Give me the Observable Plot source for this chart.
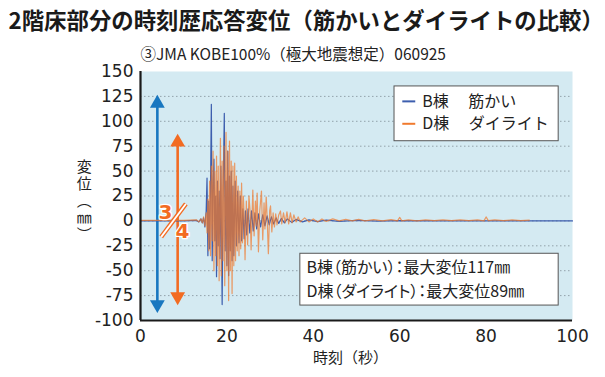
<!DOCTYPE html>
<html>
<head>
<meta charset="utf-8">
<script src="https://cdn.jsdelivr.net/npm/d3@7"></script>
<script src="https://cdn.jsdelivr.net/npm/@observablehq/plot@0.6"></script>
<style>
  html, body { margin: 0; padding: 0; background: #fff; }
  #chart { width: 605px; height: 377px; }
</style>
</head>
<body>
<div id="chart"></div>
<script>
// ---- Text ----
const titleText = "2階床部分の時刻歴応答変位（筋かいとダイライトの比較）";
const subtitleText = "③JMA KOBE100%（極大地震想定）060925";
const xLabel = "時刻（秒）";
const yLabelChars = ["変", "位", "︵", "㎜", "︶"];

// ---- Axis ticks ----
const xTicks = [0, 20, 40, 60, 80, 100];
const yTicks = [-100, -75, -50, -25, 0, 25, 50, 75, 100, 125, 150];
const gridTicks = [-75, -50, -25, 0, 25, 50, 75, 100, 125];

// ---- Series: B棟 筋かい  [time s, displacement mm] ----
const bPeaks = [[0,0],[10,0],[13,0.5],[13.5,-1],[14,2],[14.3,-2],[14.6,3],[14.9,-6],[15.2,10],[15.4,43],[15.6,-35],[15.8,20],[16.0,-28],[16.2,30],[16.4,117],[16.6,-40],[16.8,35],[17.0,62],[17.2,-20],[17.4,25],[17.6,-56],[17.8,40],[18.0,-25],[18.2,30],[18.4,-38],[18.6,55],[18.9,-84],[19.1,20],[19.4,108],[19.6,-30],[19.8,40],[20.0,-45],[20.2,70],[20.4,-55],[20.6,45],[20.8,-30],[21.0,50],[21.2,-40],[21.4,35],[21.6,-35],[21.9,40],[22.2,-25],[22.5,30],[22.8,-22],[23.1,25],[23.4,-20],[23.7,12],[24.0,-18],[24.3,10],[24.6,-14],[24.9,12],[25.3,-12],[25.7,10],[26.1,-10],[26.5,8],[26.9,-8],[27.3,7],[27.8,-6],[28.3,6],[28.8,-5],[29.3,5],[29.8,-4],[30.3,4],[30.8,-3],[31.4,3],[32,-2.5],[32.6,2.5],[33.3,-2],[34,2],[35,-1.5],[36,1.5],[37.5,-1],[39,1],[41,-0.8],[43,0.8],[46,-0.5],[50,0.5],[55,-0.3],[60,0.3],[70,0],[100,0]];

// ---- Series: D棟 ダイライト ----
const dPeaks = [[0,0.5],[10,0.5],[13,1],[13.5,-1],[14,2],[14.3,-2],[14.6,4],[14.9,-5],[15.2,8],[15.4,-12],[15.6,22],[15.8,-30],[16.0,40],[16.2,-35],[16.4,55],[16.6,-20],[16.8,70],[17.0,-50],[17.2,50],[17.4,-35],[17.6,65],[17.8,-45],[18.0,55],[18.2,-60],[18.5,83],[18.7,-55],[18.9,60],[19.1,-40],[19.3,75],[19.5,-65],[19.8,89],[20.0,-50],[20.2,70],[20.4,-80],[20.6,80],[20.8,-50],[21.0,60],[21.2,-73],[21.4,55],[21.6,-45],[21.8,58],[22.0,-40],[22.2,45],[22.4,-30],[22.6,35],[22.8,-35],[23.0,30],[23.2,-28],[23.4,38],[23.6,-22],[23.8,25],[24.0,5],[24.2,-39],[24.5,20],[24.8,-24],[25.1,25],[25.4,8],[25.6,-29],[26.0,31],[26.3,-15],[26.6,20],[26.8,-5],[27.0,28],[27.3,-31],[27.6,10],[28.0,30],[28.3,-19],[28.6,18],[28.8,-8],[29.1,24],[29.3,5],[29.6,-33],[29.9,10],[30.1,15],[30.4,-11],[30.7,8],[31.0,-6],[31.3,7],[31.6,-4],[32.0,6],[32.4,10],[32.7,-3],[33.1,8],[33.5,-2],[33.9,9],[34.3,-3],[34.7,8],[35.1,-2],[35.5,6],[36,-1],[36.5,4],[37,-1],[38,3],[39,-1],[40,2],[41,-1],[42,2],[43,-0.5],[44.5,2],[46,0],[47.5,1.5],[49,0],[50.5,1.5],[52,0],[54,1.2],[56,0],[58,1.2],[59.5,0],[60,3.5],[60.5,0],[62,1],[64,0],[66,1],[68,0.3],[70,1],[72,0.3],[74,1],[76,0.3],[78,1],[79.5,0],[80,4],[80.5,0.3],[82,1],[84,0.3],[86,1],[88,0.3],[90,0.8]];

const seriesNames = ["B棟　 筋かい", "D棟　 ダイライト"];
const seriesColors = ["#3d5eae", "#f07a2e"];

// ---- Annotations ----
const arrowNames = ["B", "D"];
const arrowX = [3.9, 8.6];
const arrowTop = [122, 83];
const arrowBottom = [-88, -80];
const arrowColors = ["#1877c0", "#f26b22"];

const noteLines = ["B棟（筋かい）：最大変位117㎜", "D棟（ダイライト）：最大変位89㎜"];

// ---- Build tables ----
const bData = bPeaks.map(([t, v]) => ({t, v}));
const dData = dPeaks.map(([t, v]) => ({t, v}));
const arrows = arrowNames.map((n, i) => ({x: arrowX[i], top: arrowTop[i], bottom: arrowBottom[i], c: arrowColors[i]}));
const legendItems = seriesNames.map((n, i) => ({name: n, c: seriesColors[i], y: [120, 97.5][i]}));
const noteItems = noteLines.map((s, i) => ({s, y: [-47, -71][i]}));
const yLabelItems = yLabelChars.map((s, i) => ({s, y: [54, 37, 20, 3, -14][i]}));

const jp = "'Noto Sans CJK JP', 'Noto Sans', sans-serif";
const num = "'DejaVu Sans', 'Liberation Sans', sans-serif";

const chart = Plot.plot({
  width: 605,
  height: 377,
  marginLeft: 140,
  marginRight: 33,
  marginTop: 71,
  marginBottom: 57,
  style: {fontFamily: num, fontSize: "17px", color: "#222", background: "#fff", overflow: "visible"},
  x: {domain: [0, 100]},
  y: {domain: [-100, 150]},
  marks: [
    Plot.frame({fill: "#d4eaf2", stroke: null}),
    Plot.gridY(gridTicks, {stroke: "#8c9ba3", strokeOpacity: 0.9, strokeDasharray: "1.5,2.5"}),
    Plot.axisY({ticks: yTicks, tickFormat: d => String(d), tickSize: 0, tickPadding: 7, fontSize: 17, label: null, fill: "#222"}),
    Plot.axisX({ticks: xTicks, tickFormat: d => String(d), tickSize: 0, tickPadding: 9, fontSize: 17, label: null, fill: "#222"}),
    // arrows
    Plot.ruleX(arrows, {x: "x", y1: "top", y2: "bottom", stroke: "c", strokeWidth: 2.6, insetTop: 6, insetBottom: 6}),
    Plot.dot(arrows, {x: "x", y: "top", symbol: "triangle", fill: "c", r: 5.5, rotate: 0, dy: 4}),
    Plot.dot(arrows, {x: "x", y: "bottom", symbol: "triangle", fill: "c", r: 5.5, rotate: 180, dy: -4}),
    // series
    Plot.line(bData, {x: "t", y: "v", stroke: seriesColors[0], strokeWidth: 1.2}),
    Plot.line(dData, {x: "t", y: "v", stroke: seriesColors[1], strokeWidth: 1.2, strokeOpacity: 0.72}),
    // 3/4 mark
    Plot.link([{x1: 4.8, y1: -16, x2: 10.5, y2: 17}], {x1: "x1", y1: "y1", x2: "x2", y2: "y2", stroke: "#f26b22", strokeWidth: 4.5}),
    Plot.link([{x1: 4.8, y1: -16, x2: 10.5, y2: 17}], {x1: "x1", y1: "y1", x2: "x2", y2: "y2", stroke: "#fff", strokeWidth: 1.8}),
    Plot.text([{x: 5.8, y: 8, s: "3"}, {x: 9.7, y: -11, s: "4"}], {x: "x", y: "y", text: "s", fill: "#f26b22", stroke: "#fff", strokeWidth: 2.5, paintOrder: "stroke", fontSize: 20, fontWeight: "bold", fontFamily: num}),
    // legend
    Plot.rect([{x1: 58.8, x2: 96.8, y1: 80, y2: 135}], {x1: "x1", x2: "x2", y1: "y1", y2: "y2", fill: "#fff", stroke: "#555", strokeWidth: 1}),
    Plot.link(legendItems, {x1: 60.6, x2: 63.6, y1: "y", y2: "y", stroke: "c", strokeWidth: 2}),
    Plot.text(legendItems, {x: 65.2, y: "y", text: "name", textAnchor: "start", fontSize: 16, fontFamily: jp, fill: "#222"}),
    // note box
    Plot.rect([{x1: 37, x2: 96.8, y1: -85, y2: -33}], {x1: "x1", x2: "x2", y1: "y1", y2: "y2", fill: "#fff", stroke: "#555", strokeWidth: 1}),
    Plot.text(noteItems, {x: 38.4, y: "y", text: "s", textAnchor: "start", fontSize: 16, fontFamily: jp, fill: "#222"}),
    // axis frame lines
    Plot.ruleX([0], {stroke: "#1a1a1a", strokeWidth: 2.2}),
    Plot.ruleY([-100], {stroke: "#1a1a1a", strokeWidth: 2.2}),
    // titles
    Plot.text([titleText], {text: d => d, frameAnchor: "top-left", dx: -132, dy: -50, textAnchor: "start", lineAnchor: "middle", fontSize: 22.4, fontWeight: "bold", fontFamily: jp, fill: "#1a1a1a"}),
    Plot.text([subtitleText], {text: d => d, frameAnchor: "top-left", dx: 0, dy: -16, textAnchor: "start", lineAnchor: "middle", fontSize: 15.5, fontFamily: jp, fill: "#222"}),
    Plot.text([xLabel], {text: d => d, frameAnchor: "bottom", dx: -6, dy: 38, lineAnchor: "middle", fontSize: 15, fontFamily: jp, fill: "#222"}),
    Plot.text(yLabelItems, {x: -13, y: "y", text: "s", lineAnchor: "middle", fontSize: 15, fontFamily: jp, fill: "#222"})
  ]
});
document.getElementById("chart").appendChild(chart);
// proportional CJK spacing for the note box lines
d3.select(chart).selectAll("text").filter(function() { return this.textContent.includes("最大変位"); })
  .style("font-feature-settings", "'palt'");
</script>
</body>
</html>
